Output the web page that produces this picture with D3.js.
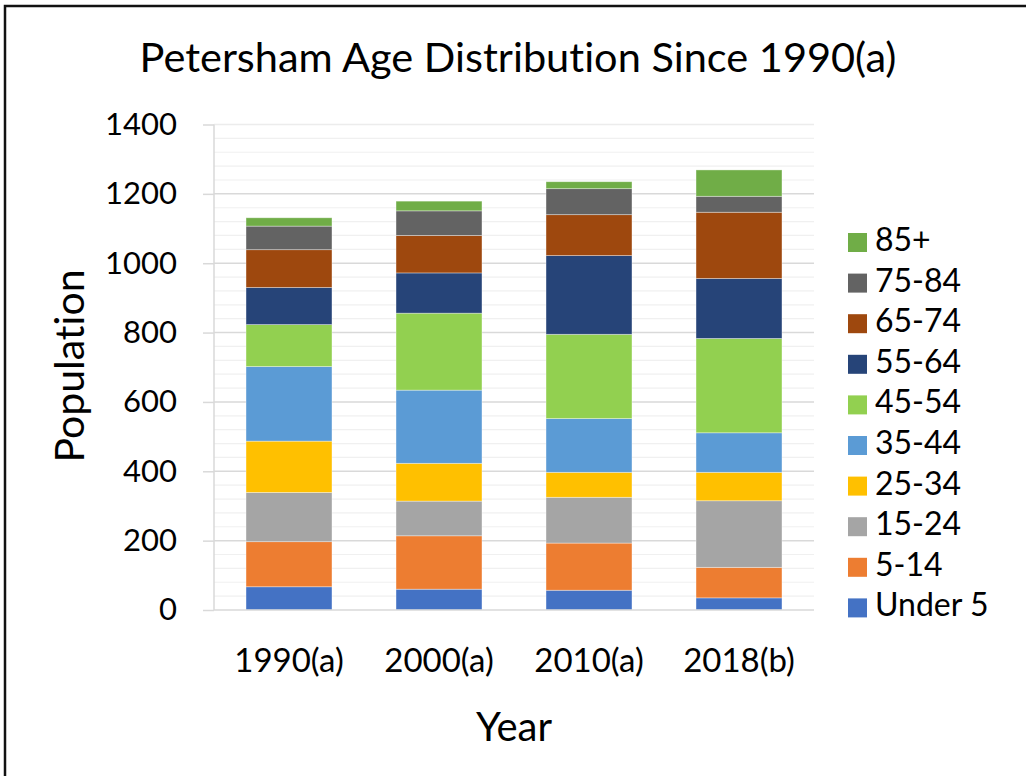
<!DOCTYPE html>
<html>
<head>
<meta charset="utf-8">
<script src="https://cdn.jsdelivr.net/npm/d3@7/dist/d3.min.js"></script>
<style>
    body { margin: 0; background: #fff; }
    #chart-area text { font-family: Lato, "Open Sans", sans-serif; fill: #000; font-variant-ligatures: none; font-feature-settings: "liga" 0; }
    .axis .domain { stroke: #d9d9d9; stroke-width: 1.5; }
    .axis .tick line { stroke: #d9d9d9; stroke-width: 1.5; }
</style>
</head>
<body>
<div id="chart-area"></div>
<script>

// Chart data
var years = ["1990(a)", "2000(a)", "2010(a)", "2018(b)"];
var ageGroups = ["Under 5", "5-14", "15-24", "25-34", "35-44", "45-54", "55-64", "65-74", "75-84", "85+"];

var under5   = [67, 60, 57, 35];
var age5_14  = [130, 154, 136, 88];
var age15_24 = [142, 100, 132, 192];
var age25_34 = [148, 109, 72, 82];
var age35_44 = [215, 211, 155, 114];
var age45_54 = [121, 222, 243, 272];
var age55_64 = [107, 116, 227, 173];
var age65_74 = [109, 108, 118, 191];
var age75_84 = [68, 71, 75, 46];
var age85up  = [24, 28, 20, 76];

var yTicks = [0, 200, 400, 600, 800, 1000, 1200, 1400];

var groupColors = ["#4472c4", "#ed7d31", "#a5a5a5", "#ffc000", "#5b9bd5",
                   "#92d050", "#264478", "#9e480e", "#636363", "#70ad47"];

StackedAgeVis = function(_parentElement) {
    this.parentElement = _parentElement;
    this.initVis();
};

StackedAgeVis.prototype.initVis = function() {
    var vis = this;

    vis.svg = d3.select("#" + vis.parentElement).append("svg")
        .attr("width", 1026)
        .attr("height", 776);

    // outer frame (only left and top edges are visible)
    vis.svg.append("path")
        .attr("d", "M5,776 V6 H1026")
        .attr("fill", "none")
        .attr("stroke", "#111")
        .attr("stroke-width", 2.5);

    // build table rows from the named arrays
    var series = [under5, age5_14, age15_24, age25_34, age35_44,
                  age45_54, age55_64, age65_74, age75_84, age85up];
    vis.data = years.map(function(y, i) {
        var row = {year: y};
        ageGroups.forEach(function(g, j) { row[g] = series[j][i]; });
        return row;
    });

    // Scales
    vis.x = d3.scaleBand()
        .domain(years)
        .range([214, 814])
        .paddingInner(0.427)
        .paddingOuter(0.2135);

    vis.y = d3.scaleLinear()
        .domain([0, 1400])
        .range([610, 124.5]);

    vis.color = d3.scaleOrdinal()
        .domain(ageGroups)
        .range(groupColors);

    // minor gridlines
    vis.svg.append("g")
        .selectAll("line")
        .data(d3.range(40, 1400, 40).filter(function(d) { return d % 200 !== 0; }))
        .enter().append("line")
        .attr("x1", 214).attr("x2", 814)
        .attr("y1", function(d) { return vis.y(d); })
        .attr("y2", function(d) { return vis.y(d); })
        .attr("stroke", "#f0f0f0")
        .attr("stroke-width", 1.2);

    // major gridlines
    vis.svg.append("g")
        .selectAll("line")
        .data(yTicks.slice(1))
        .enter().append("line")
        .attr("x1", 214).attr("x2", 814)
        .attr("y1", function(d) { return vis.y(d); })
        .attr("y2", function(d) { return vis.y(d); })
        .attr("stroke", function(d) { return d === 1400 ? "#ececec" : "#d9d9d9"; })
        .attr("stroke-width", 1.5);

    // Stacked bars
    vis.stacked = d3.stack().keys(ageGroups)(vis.data);

    vis.svg.append("g")
        .selectAll("g")
        .data(vis.stacked)
        .enter().append("g")
        .attr("fill", function(d) { return vis.color(d.key); })
        .selectAll("rect")
        .data(function(d) { return d; })
        .enter().append("rect")
        .attr("x", function(d) { return vis.x(d.data.year); })
        .attr("width", vis.x.bandwidth())
        .attr("y", function(d) { return vis.y(d[1]); })
        .attr("height", function(d) { return vis.y(d[0]) - vis.y(d[1]); })
        .attr("stroke", "#fff")
        .attr("stroke-opacity", 0.45)
        .attr("stroke-width", 0.8);

    // Axes
    vis.yAxis = d3.axisLeft(vis.y)
        .tickValues(yTicks)
        .tickFormat(d3.format("d"))
        .tickSize(11)
        .tickPadding(26);
    vis.svg.append("g")
        .attr("class", "axis y-axis")
        .attr("transform", "translate(214,0)")
        .call(vis.yAxis)
        .call(function(g) { g.select(".domain").attr("d", "M0,124.5V610"); })
        .selectAll("text")
        .style("font-size", "31px");

    vis.xAxis = d3.axisBottom(vis.x)
        .tickSize(0)
        .tickPadding(39);
    vis.svg.append("g")
        .attr("class", "axis x-axis")
        .attr("transform", "translate(0,610)")
        .call(vis.xAxis)
        .call(function(g) { g.select(".domain").attr("d", "M214,0H814"); })
        .selectAll("text")
        .style("font-size", "33px");

    // Title and axis labels
    vis.svg.append("text")
        .attr("x", 518)
        .attr("y", 72)
        .attr("text-anchor", "middle")
        .style("font-size", "41.5px")
        .text("Petersham Age Distribution Since 1990(a)");

    vis.svg.append("text")
        .attr("transform", "translate(84,366) rotate(-90)")
        .attr("text-anchor", "middle")
        .style("font-size", "41px")
        .text("Population");

    vis.svg.append("text")
        .attr("x", 514)
        .attr("y", 741)
        .attr("text-anchor", "middle")
        .style("font-size", "40px")
        .text("Year");

    // Legend (top = 85+)
    vis.legend = vis.svg.append("g")
        .selectAll("g")
        .data(ageGroups.slice().reverse())
        .enter().append("g")
        .attr("transform", function(d, i) { return "translate(848," + (233 + i * 40.6) + ")"; });

    vis.legend.append("rect")
        .attr("width", 19)
        .attr("height", 19)
        .attr("fill", function(d) { return vis.color(d); });

    vis.legend.append("text")
        .attr("x", 27)
        .attr("y", 18)
        .style("font-size", "32px")
        .text(function(d) { return d; });
};

var ageVis = new StackedAgeVis("chart-area");

</script>
</body>
</html>
